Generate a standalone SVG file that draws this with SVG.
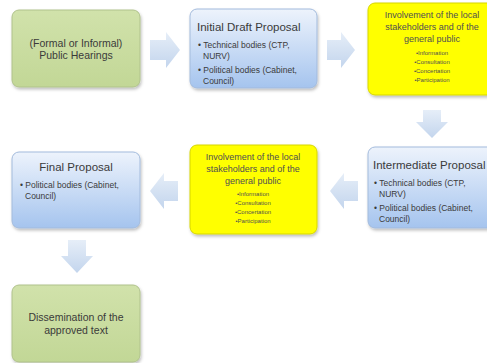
<svg xmlns="http://www.w3.org/2000/svg" width="487" height="363" viewBox="0 0 487 363">
<defs>
<linearGradient id="gGreen" x1="0" y1="0" x2="0" y2="1"><stop offset="0" stop-color="#d1e2ab"/><stop offset="1" stop-color="#c2d796"/></linearGradient>
<linearGradient id="gBlue" x1="0" y1="0" x2="0" y2="1"><stop offset="0" stop-color="#edf3fc"/><stop offset="1" stop-color="#a5c4ee"/></linearGradient>
<linearGradient id="gArrow" x1="0" y1="0" x2="0" y2="1"><stop offset="0" stop-color="#e6eef8"/><stop offset="1" stop-color="#c3d5ed"/></linearGradient>
<filter id="sh" x="-10%" y="-10%" width="130%" height="130%"><feDropShadow dx="1" dy="2" stdDeviation="1.5" flood-color="#000" flood-opacity="0.25"/></filter>
<style>
.green{fill:url(#gGreen);stroke:#b0c28c;stroke-width:1;filter:url(#sh)}
.blue{fill:url(#gBlue);stroke:#a3bbdc;stroke-width:1;filter:url(#sh)}
.yellow{fill:#ffff00;stroke:#d6d600;stroke-width:1;filter:url(#sh)}
.arrow{fill:url(#gArrow);stroke:none}
text{font-family:"Liberation Sans",Arial,sans-serif;fill:#3a3a3a}
.c{text-anchor:middle}
.t1{font-size:10.5px}
.ttl{font-size:11.5px}
.b{font-size:8.5px}
.y{font-size:9px;fill:#505050}
.ys{font-size:6px;fill:#505050}
</style>
</defs>
<g id="connectors">
<path class="arrow" d="M150,40 H166 V32 L180,50 L166,68 V60 H150 Z"/>
<path class="arrow" d="M327,40 H341 V32 L355,50 L341,68 V60 H327 Z"/>
<path class="arrow" d="M423,110 H441 V122 H448 L432,138 L416,122 H423 Z"/>
<path class="arrow" d="M358,181 H344 V173 L330,191 L344,209 V201 H358 Z"/>
<path class="arrow" d="M178,181 H164 V173 L150,191 L164,209 V201 H178 Z"/>
<path class="arrow" d="M68,240 H86 V256 H93 L77,273 L61,256 H68 Z"/>
</g>
<g id="n1">
<rect class="green" x="12" y="10" width="128" height="77" rx="7"/>
<text class="c t1" x="76" y="47">(Formal or Informal)</text>
<text class="c t1" x="76" y="59">Public Hearings</text>
</g>
<g id="n2">
<rect class="blue" x="190" y="9" width="127" height="79" rx="7"/>
<text class="ttl" x="197" y="31">Initial Draft Proposal</text>
<text class="b" x="198" y="48">• Technical bodies (CTP,</text>
<text class="b" x="203" y="59">NURV)</text>
<text class="b" x="198" y="73">• Political bodies (Cabinet,</text>
<text class="b" x="203" y="84">Council)</text>
</g>
<g id="n3">
<rect class="yellow" x="368" y="3" width="130" height="92" rx="7"/>
<text class="c y" x="432" y="18">Involvement of the local</text>
<text class="c y" x="432" y="30">stakeholders and of the</text>
<text class="c y" x="432" y="42">general public</text>
<text class="c ys" x="432" y="55">•Information</text>
<text class="c ys" x="432" y="64">•Consultation</text>
<text class="c ys" x="432" y="73">•Concertation</text>
<text class="c ys" x="432" y="82">•Participation</text>
</g>
<g id="n4">
<rect class="blue" x="368" y="147" width="130" height="81" rx="7"/>
<text class="ttl" x="373" y="169">Intermediate Proposal</text>
<text class="b" x="374" y="186">• Technical bodies (CTP,</text>
<text class="b" x="379" y="197">NURV)</text>
<text class="b" x="374" y="211">• Political bodies (Cabinet,</text>
<text class="b" x="379" y="222">Council)</text>
</g>
<g id="n5">
<rect class="yellow" x="190" y="145" width="127" height="89" rx="7"/>
<text class="c y" x="253" y="160">Involvement of the local</text>
<text class="c y" x="253" y="172">stakeholders and of the</text>
<text class="c y" x="253" y="184">general public</text>
<text class="c ys" x="253" y="196">•Information</text>
<text class="c ys" x="253" y="205">•Consultation</text>
<text class="c ys" x="253" y="214">•Concertation</text>
<text class="c ys" x="253" y="223">•Participation</text>
</g>
<g id="n6">
<rect class="blue" x="12" y="152" width="128" height="76" rx="7"/>
<text class="c ttl" x="76" y="171">Final Proposal</text>
<text class="b" x="20" y="188">• Political bodies (Cabinet,</text>
<text class="b" x="25" y="199">Council)</text>
</g>
<g id="n7">
<rect class="green" x="12" y="285" width="128" height="77" rx="7"/>
<text class="c t1" x="76" y="321">Dissemination of the</text>
<text class="c t1" x="76" y="334">approved text</text>
</g>
</svg>
